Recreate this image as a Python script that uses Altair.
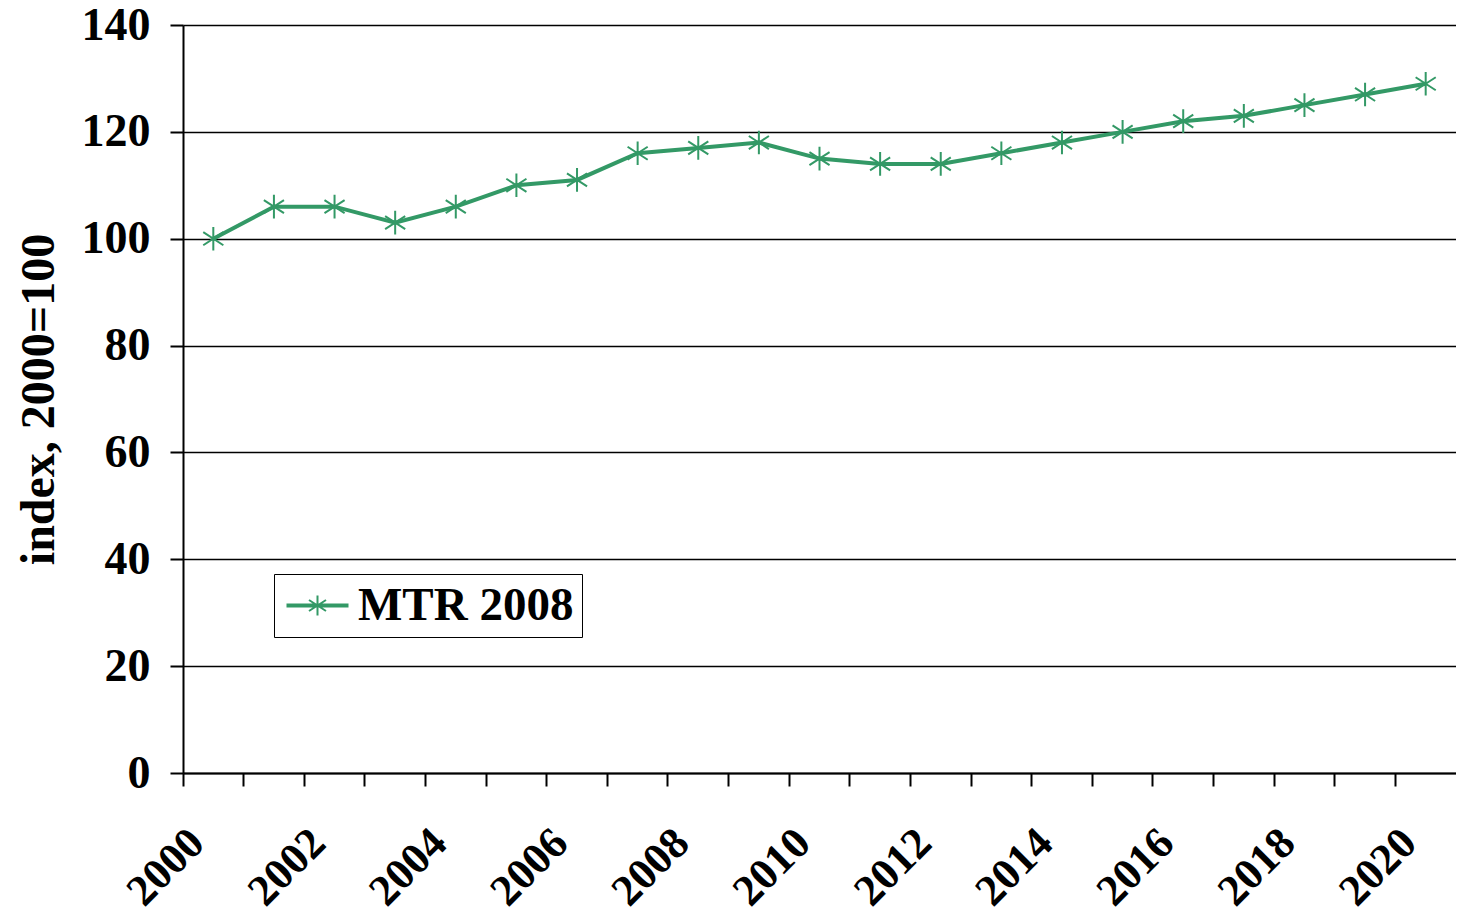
import altair as alt
import pandas as pd

years = list(range(2000, 2021))
values = [100, 106, 106, 103, 106, 110, 111, 116, 117, 118, 115, 114, 114, 116, 118, 120, 122, 123, 125, 127, 129]
series = ["MTR 2008"] * len(years)

df = pd.DataFrame({"year": years, "value": values, "series": series})

GREEN = "#339966"
FONT = "Liberation Serif"
ASTER = "M0,-1L0,1M-0.85,-0.55L0.85,0.55M-0.85,0.55L0.85,-0.55"
LEGEND_SYM = "M-3,-0.1L3,-0.1L3,0.1L-3,0.1Z" + ASTER

x_enc = alt.X(
    "year:O",
    title=None,
    scale=alt.Scale(type="band", paddingInner=0, paddingOuter=0),
    axis=alt.Axis(
        bandPosition=0,
        labelExpr="datum.value % 2 == 0 ? datum.label : ''",
        labelAngle=-45,
        labelAlign="right",
        labelBaseline="middle",
        labelOffset=-16,
        labelPadding=50,
        labelFont=FONT,
        labelFontWeight="bold",
        labelFontSize=44,
        labelColor="black",
        tickSize=13,
        tickColor="black",
        tickWidth=2,
        domainColor="black",
        domainWidth=2,
        grid=False,
        labelOverlap=False,
        labelBound=False,
    ),
)

y_enc = alt.Y(
    "value:Q",
    title="index, 2000=100",
    scale=alt.Scale(domain=[0, 140], nice=False, zero=True),
    axis=alt.Axis(
        values=[0, 20, 40, 60, 80, 100, 120, 140],
        labelFont=FONT,
        labelFontWeight="bold",
        labelFontSize=46,
        labelColor="black",
        labelPadding=20,
        tickSize=13,
        tickColor="black",
        tickWidth=2,
        domainColor="black",
        domainWidth=2,
        grid=True,
        gridColor="black",
        gridWidth=1.5,
        gridOpacity=1,
        titleFont=FONT,
        titleFontWeight="bold",
        titleFontSize=48,
        titleColor="black",
        titlePadding=18,
    ),
)

line = alt.Chart(df).mark_line(color=GREEN, strokeWidth=4).encode(x=x_enc, y=y_enc)

points = alt.Chart(df).mark_point(shape=ASTER, size=560, filled=False, strokeWidth=2, opacity=1).encode(
    x=x_enc,
    y=y_enc,
    color=alt.Color(
        "series:N",
        scale=alt.Scale(range=[GREEN]),
        legend=alt.Legend(
            title=None,
            orient="none",
            legendX=91,
            legendY=549,
            strokeColor="black",
            fillColor="white",
            padding=8,
            symbolType=LEGEND_SYM,
            symbolSize=400,
            symbolStrokeWidth=2,
            symbolFillColor=GREEN,
            symbolOffset=12,
            labelOffset=17,
            labelLimit=0,
            labelFont=FONT,
            labelFontWeight="bold",
            labelFontSize=47,
            labelColor="black",
        ),
    ),
)

chart = (
    alt.layer(line, points)
    .properties(
        width=1273,
        height=748,
        autosize=alt.AutoSizeParams(type="none"),
        padding={"left": 175, "top": 17, "right": 0, "bottom": 141},
    )
    .configure_view(stroke="black", strokeWidth=2)
    .configure(background="white")
)

chart.save("out.html", embed_options={"renderer": "svg", "actions": False})
